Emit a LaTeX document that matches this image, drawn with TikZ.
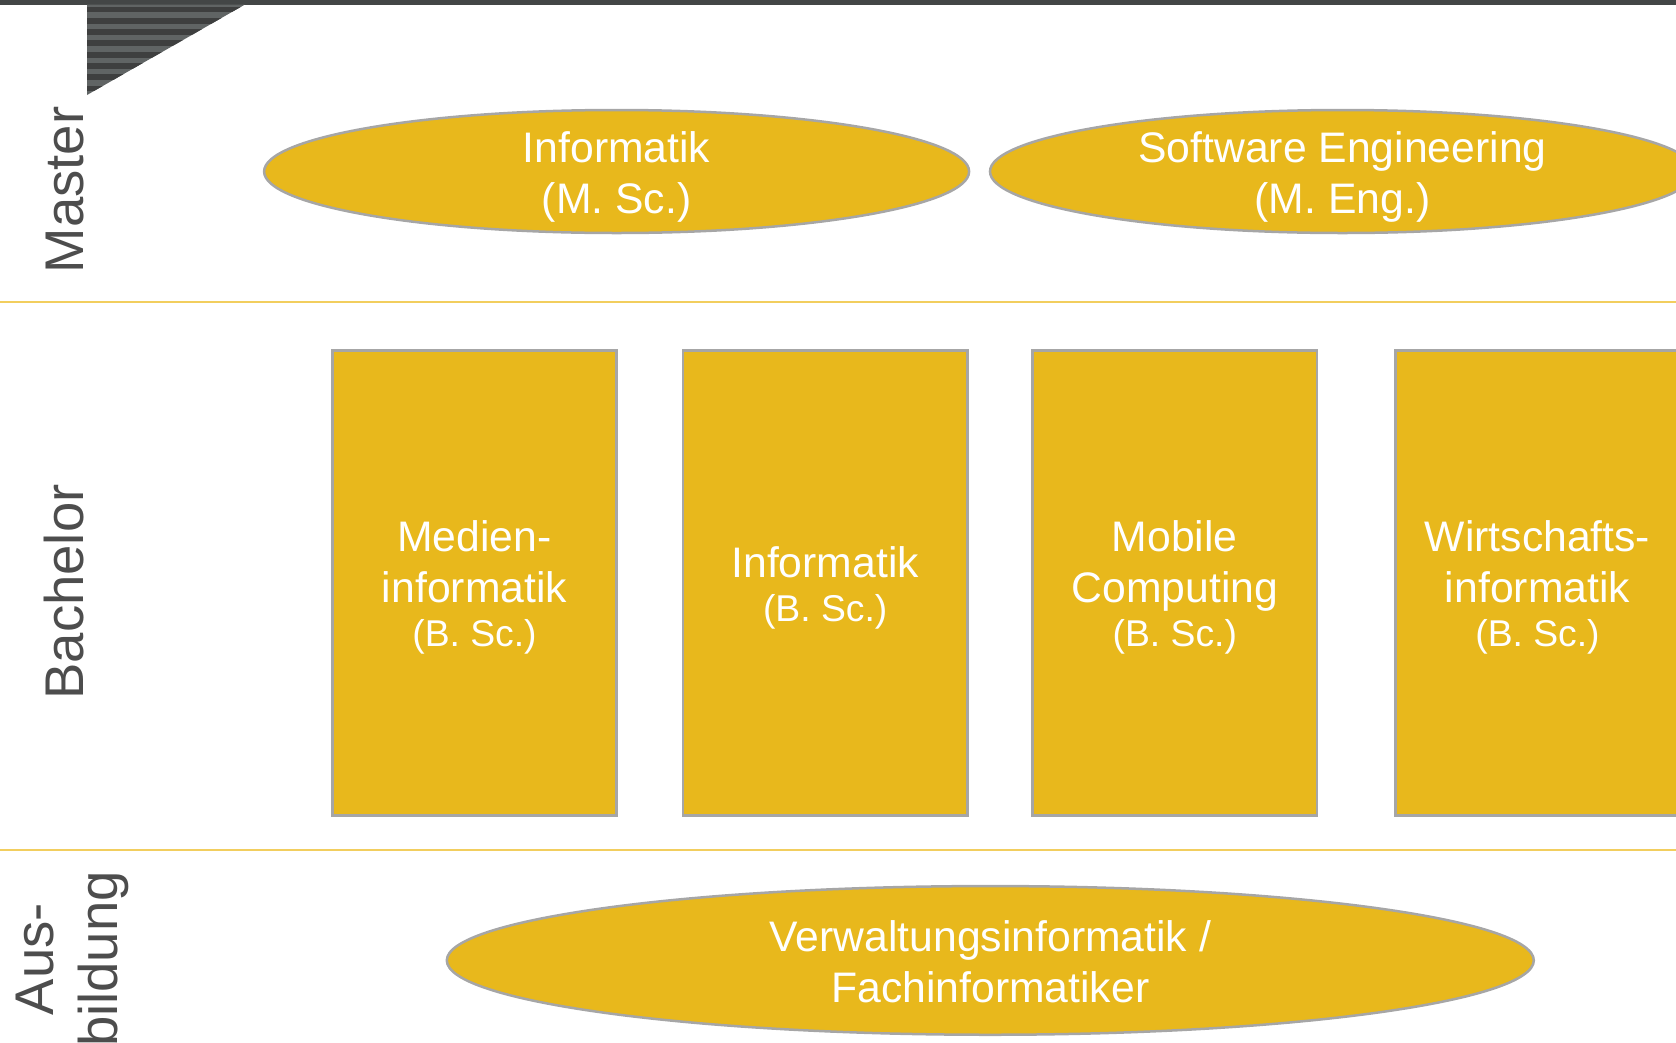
\documentclass[tikz,border=0pt]{standalone}
\usepackage{fontspec}
\setmainfont{Liberation Sans}
\usetikzlibrary{shapes.geometric}
\definecolor{gold}{HTML}{E8B81C}
\definecolor{rim}{HTML}{A6A6A6}
\definecolor{divcol}{HTML}{F2CE5E}
\definecolor{labelgray}{HTML}{4D4D4D}
\definecolor{stripedark}{HTML}{3E3F3F}
\definecolor{stripelight}{HTML}{606464}
\definecolor{topbar}{HTML}{434646}
\begin{document}
\begin{tikzpicture}[x=1pt,y=-1pt,
  ell/.style={ellipse, draw=rim, line width=2.5pt, fill=gold, inner sep=0pt},
  prog/.style={rectangle, draw=rim, line width=2.5pt, fill=gold, minimum width=284.3pt, minimum height=465pt, inner sep=0pt},
  boxtext/.style={anchor=base, text=white, inner sep=0pt, font=\fontsize{42.7}{50.5}\selectfont},
  level/.style={anchor=base, rotate=90, text=labelgray, inner sep=0pt, font=\fontsize{54.5}{64}\selectfont},
  divider/.style={draw=divcol, line width=2pt}]
\useasboundingbox (0,0) rectangle (1676,1042);
\clip (0,0) rectangle (1676,1042);
% top bar and striped triangle
\fill[topbar] (0,0) rectangle (1676,4.5);
\begin{scope}
  \clip (87,4.5) -- (245,4.5) -- (87,95) -- cycle;
  \fill[stripelight] (87,0) rectangle (245,96);
  \foreach \i in {0,...,8} \fill[stripedark] (87,{6.5+11.3*\i}) rectangle (245,{12.3+11.3*\i});
\end{scope}
% dividers
\draw[divider] (0,301.8) -- (1676,301.8);
\draw[divider] (0,850) -- (1676,850);
% level labels
\node[level] (lMaster) at (83,190) {Master};
\node[level] (lBachelor) at (83,592) {Bachelor};
\node[level] (lAus) at (53.3,959) {\begin{tabular}[t]{@{}c@{}}Aus-\\bildung\end{tabular}};
% master
\node[ell, minimum width=705pt, minimum height=123pt] (mInf) at (616.6,171.5) {};
\node[ell, minimum width=705pt, minimum height=123pt] (mSE) at (1342.5,171.5) {};
\node[boxtext] (mInfT) at (616.6,162.5) {\begin{tabular}[t]{@{}c@{}}Informatik\\(M. Sc.)\end{tabular}};
\node[boxtext] (mSET) at (1342.5,162.5) {\begin{tabular}[t]{@{}c@{}}Software Engineering\\(M. Eng.)\end{tabular}};
% bachelor
\node[prog] (bMed) at (474.5,583.2) {};
\node[prog] (bInf) at (825.2,583.2) {};
\node[prog] (bMob) at (1174.8,583.2) {};
\node[prog] (bWi) at (1537.5,583.2) {};
\node[boxtext] (bMedT) at (474.5,551.7) {\begin{tabular}[t]{@{}c@{}}Medien-\\informatik\\\raisebox{6pt}{\fontsize{37.3}{44}\selectfont (B. Sc.)}\end{tabular}};
\node[boxtext] (bInfT) at (825.2,577.2) {\begin{tabular}[t]{@{}c@{}}Informatik\\\raisebox{6pt}{\fontsize{37.3}{44}\selectfont (B. Sc.)}\end{tabular}};
\node[boxtext] (bMobT) at (1174.8,551.7) {\begin{tabular}[t]{@{}c@{}}Mobile\\Computing\\\raisebox{6pt}{\fontsize{37.3}{44}\selectfont (B. Sc.)}\end{tabular}};
\node[boxtext] (bWiT) at (1537.5,551.7) {\begin{tabular}[t]{@{}c@{}}Wirtschafts-\\informatik\\\raisebox{6pt}{\fontsize{37.3}{44}\selectfont (B. Sc.)}\end{tabular}};
% ausbildung
\node[ell, minimum width=1087pt, minimum height=148.7pt] (aus) at (990.3,960.4) {};
\node[boxtext] (ausT) at (990.3,951.7) {\begin{tabular}[t]{@{}c@{}}Verwaltungsinformatik /\\Fachinformatiker\end{tabular}};
\end{tikzpicture}
\end{document}
